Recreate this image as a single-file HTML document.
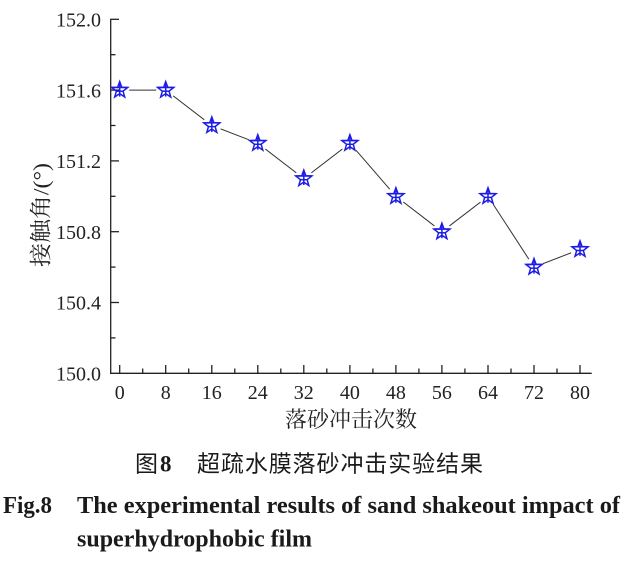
<!DOCTYPE html>
<html><head><meta charset="utf-8"><style>
html,body{margin:0;padding:0;background:#fff;}
svg{display:block;}
</style></head><body>
<svg width="628" height="565" viewBox="0 0 628 565" xmlns="http://www.w3.org/2000/svg">
<defs>
<g id="st" fill="none" stroke="#1c1ce6" stroke-width="1.5" stroke-linejoin="miter">
<polygon points="0,-8.5 2.06,-2.84 8.08,-2.63 3.33,1.08 5.0,6.88 0,3.5 -5.0,6.88 -3.33,1.08 -8.08,-2.63 -2.06,-2.84"/>
<line x1="-8" y1="-2.6" x2="8" y2="-2.6"/>
<line x1="-3.3" y1="1.1" x2="3.3" y2="1.1"/>
<line x1="0" y1="-8.5" x2="0" y2="6.5"/>
</g>
</defs>
<rect width="628" height="565" fill="#fff"/>
<polyline fill="none" stroke="#333" stroke-width="1" points="119.7,90.1 165.7,90.1 211.8,125.5 257.8,143.2 303.8,178.6 349.9,143.2 395.9,196.3 441.9,231.7 488.0,196.3 534.0,267.1 580.0,249.4"/>
<g fill="#fff">
<circle cx="119.7" cy="90.1" r="9.5"/><circle cx="165.7" cy="90.1" r="9.5"/><circle cx="211.8" cy="125.5" r="9.5"/><circle cx="257.8" cy="143.2" r="9.5"/><circle cx="303.8" cy="178.6" r="9.5"/><circle cx="349.9" cy="143.2" r="9.5"/><circle cx="395.9" cy="196.3" r="9.5"/><circle cx="441.9" cy="231.7" r="9.5"/><circle cx="488.0" cy="196.3" r="9.5"/><circle cx="534.0" cy="267.1" r="9.5"/><circle cx="580.0" cy="249.4" r="9.5"/>
</g>
<g stroke="#222" stroke-width="1.3" fill="none">
<line x1="110.7" y1="18.7" x2="110.7" y2="374"/>
<line x1="110" y1="373.3" x2="591.7" y2="373.3"/>
<line x1="110.7" y1="19.3" x2="119" y2="19.3"/>
<line x1="110.7" y1="90.1" x2="119" y2="90.1"/>
<line x1="110.7" y1="160.9" x2="119" y2="160.9"/>
<line x1="110.7" y1="231.7" x2="119" y2="231.7"/>
<line x1="110.7" y1="302.5" x2="119" y2="302.5"/>
<line x1="110.7" y1="54.7" x2="115.5" y2="54.7"/>
<line x1="110.7" y1="125.5" x2="115.5" y2="125.5"/>
<line x1="110.7" y1="196.3" x2="115.5" y2="196.3"/>
<line x1="110.7" y1="267.1" x2="115.5" y2="267.1"/>
<line x1="110.7" y1="337.9" x2="115.5" y2="337.9"/>
<line x1="119.7" y1="373.3" x2="119.7" y2="365"/>
<line x1="165.7" y1="373.3" x2="165.7" y2="365"/>
<line x1="211.8" y1="373.3" x2="211.8" y2="365"/>
<line x1="257.8" y1="373.3" x2="257.8" y2="365"/>
<line x1="303.8" y1="373.3" x2="303.8" y2="365"/>
<line x1="349.9" y1="373.3" x2="349.9" y2="365"/>
<line x1="395.9" y1="373.3" x2="395.9" y2="365"/>
<line x1="441.9" y1="373.3" x2="441.9" y2="365"/>
<line x1="488.0" y1="373.3" x2="488.0" y2="365"/>
<line x1="534.0" y1="373.3" x2="534.0" y2="365"/>
<line x1="580.0" y1="373.3" x2="580.0" y2="365"/>
<line x1="142.7" y1="373.3" x2="142.7" y2="368.5"/>
<line x1="188.7" y1="373.3" x2="188.7" y2="368.5"/>
<line x1="234.8" y1="373.3" x2="234.8" y2="368.5"/>
<line x1="280.8" y1="373.3" x2="280.8" y2="368.5"/>
<line x1="326.8" y1="373.3" x2="326.8" y2="368.5"/>
<line x1="372.9" y1="373.3" x2="372.9" y2="368.5"/>
<line x1="418.9" y1="373.3" x2="418.9" y2="368.5"/>
<line x1="464.9" y1="373.3" x2="464.9" y2="368.5"/>
<line x1="511.0" y1="373.3" x2="511.0" y2="368.5"/>
<line x1="557.0" y1="373.3" x2="557.0" y2="368.5"/>
</g>
<use href="#st" x="119.7" y="90.1"/><use href="#st" x="165.7" y="90.1"/><use href="#st" x="211.8" y="125.5"/><use href="#st" x="257.8" y="143.2"/><use href="#st" x="303.8" y="178.6"/><use href="#st" x="349.9" y="143.2"/><use href="#st" x="395.9" y="196.3"/><use href="#st" x="441.9" y="231.7"/><use href="#st" x="488.0" y="196.3"/><use href="#st" x="534.0" y="267.1"/><use href="#st" x="580.0" y="249.4"/>
<g font-family="'Liberation Serif', serif" font-size="20" fill="#222" text-anchor="end">
<text x="101" y="26.5">152.0</text>
<text x="101" y="97.3">151.6</text>
<text x="101" y="168.1">151.2</text>
<text x="101" y="238.9">150.8</text>
<text x="101" y="309.7">150.4</text>
<text x="101" y="380.5">150.0</text>
</g>
<g font-family="'Liberation Serif', serif" font-size="20" fill="#222" text-anchor="middle">
<text x="119.7" y="399">0</text>
<text x="165.7" y="399">8</text>
<text x="211.8" y="399">16</text>
<text x="257.8" y="399">24</text>
<text x="303.8" y="399">32</text>
<text x="349.9" y="399">40</text>
<text x="395.9" y="399">48</text>
<text x="441.9" y="399">56</text>
<text x="488.0" y="399">64</text>
<text x="534.0" y="399">72</text>
<text x="580.0" y="399">80</text>
</g>
<text x="285" y="427" font-family="'Liberation Serif','Noto Serif CJK SC',serif" font-size="22" fill="#222" textLength="132" lengthAdjust="spacingAndGlyphs">落砂冲击次数</text>
<text transform="translate(48.5,215) rotate(-90)" text-anchor="middle" font-family="'Liberation Serif','Noto Serif CJK SC',serif" font-size="22" fill="#222" textLength="104" lengthAdjust="spacingAndGlyphs">接触角/(°)</text>
<text x="135" y="471.5" font-family="'Liberation Sans','Noto Sans CJK SC',sans-serif" font-size="23" fill="#1a1a1a">图</text>
<text x="160" y="471.5" font-family="'Liberation Serif',serif" font-weight="bold" font-size="23" fill="#1a1a1a">8</text>
<text x="197" y="471.5" font-family="'Liberation Sans','Noto Sans CJK SC',sans-serif" font-size="23" fill="#1a1a1a" textLength="286" lengthAdjust="spacing">超疏水膜落砂冲击实验结果</text>
<g font-family="'Liberation Serif',serif" font-weight="bold" font-size="24.5" fill="#1a1a1a">
<text x="3" y="513" textLength="49" lengthAdjust="spacingAndGlyphs">Fig.8</text>
<text x="77" y="513" textLength="543" lengthAdjust="spacingAndGlyphs">The experimental results of sand shakeout impact of</text>
<text x="77" y="546.7" textLength="235" lengthAdjust="spacingAndGlyphs">superhydrophobic film</text>
</g>
</svg>
</body></html>
